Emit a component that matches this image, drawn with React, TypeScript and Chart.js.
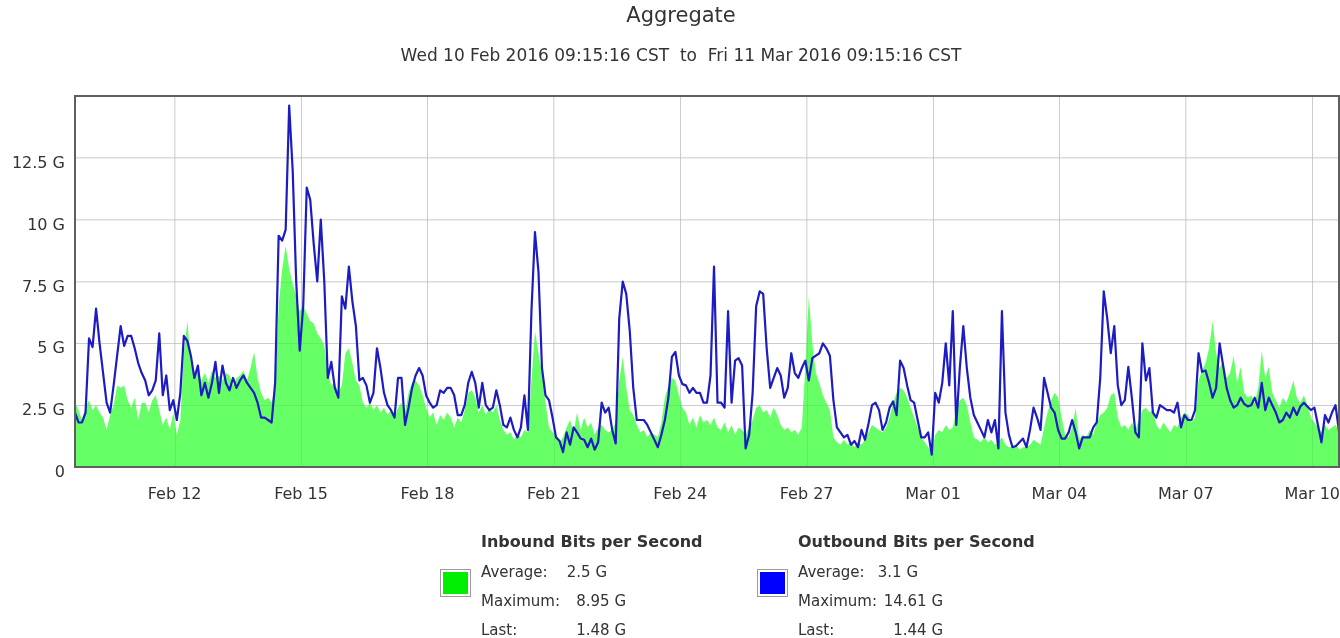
import React, { useEffect, useRef } from 'react';
import { Chart, registerables } from 'chart.js';

Chart.register(...registerables);

const TITLE = 'Aggregate';
const SUBTITLE = 'Wed 10 Feb 2016 09:15:16 CST  to  Fri 11 Mar 2016 09:15:16 CST';
const FONT = '"DejaVu Sans", "Bitstream Vera Sans", sans-serif';

// one sample every 2 hours, starting Wed 10 Feb 2016 09:15 CST
const SAMPLE_HOURS = 2;
const RANGE_HOURS = 720;

// x axis ticks (hours after start) and their labels
const xTickHours = [56.75, 128.75, 200.75, 272.75, 344.75, 416.75, 488.75, 560.75, 632.75, 704.75];
const xTickLabels = ['Feb 12', 'Feb 15', 'Feb 18', 'Feb 21', 'Feb 24', 'Feb 27', 'Mar 01', 'Mar 04', 'Mar 07', 'Mar 10'];

// y axis (Gbit/s)
const Y_MAX = 15;
const Y_STEP = 2.5;
const yTickLabels = ['0', '2.5 G', '5 G', '7.5 G', '10 G', '12.5 G', ''];

// Inbound bits per second (G)
const inboundPart1 = [
  2.6, 2.3, 1.9, 2.4, 2.7, 2.3, 2.5, 2.2, 2.0, 1.5,
  2.1, 2.5, 3.3, 3.2, 3.3, 2.7, 2.4, 2.8, 1.9, 2.6,
  2.6, 2.2, 2.7, 2.9, 2.3, 1.7, 2.0, 1.5, 2.2, 1.3,
  1.9, 4.6, 5.9, 4.2, 3.7, 3.9, 3.5, 3.8, 3.4, 3.9,
  3.6, 3.7, 3.5, 3.8, 3.7, 3.3, 3.6,
];
const inboundPart2 = [
  3.7, 3.9, 3.5,
  4.0, 4.65, 3.6, 3.0, 2.7, 2.8, 2.6, 3.2, 6.5, 8.0,
  8.95, 8.0, 7.4, 6.9, 6.3, 6.5, 6.2, 5.9, 5.8, 5.4,
  5.2, 4.9, 3.8, 3.3, 3.4, 3.0, 3.3, 4.6, 4.8, 4.2,
  3.5, 3.3, 2.6, 2.4, 2.6, 2.3, 2.5, 2.2, 2.4, 2.1,
  2.3, 2.0, 2.4,
];
const inboundPart3 = [
  2.6, 2.2, 3.0, 3.4, 3.5, 3.3, 2.9,
  2.4, 2.0, 2.2, 1.7, 2.1, 1.9, 2.2, 2.0, 1.6, 2.0,
  1.8, 2.3, 3.0, 3.1, 2.8, 2.2, 2.5, 2.1, 2.4, 2.2,
  2.5, 1.9, 1.5, 1.3, 1.4, 1.1, 1.3, 1.2, 1.5, 1.4,
  3.5, 5.5, 4.6, 3.8, 2.6, 1.6, 1.4, 1.3, 1.0,
];
const inboundPart4 = [
  1.2,
  1.6, 1.9, 1.4, 2.2, 1.5, 2.0, 1.6, 1.8, 1.3, 1.6,
  1.7, 1.5, 1.4, 1.5, 1.8, 3.5, 4.45, 3.2, 2.3, 2.1,
  1.7, 1.4, 1.5, 1.2, 1.4, 1.3, 1.2, 1.8, 2.8, 3.3,
  3.6, 3.5, 2.9, 2.4, 2.2, 1.7, 2.0, 1.6, 2.1, 1.8,
  1.9, 1.7, 2.0, 1.6,
];
const inboundPart5 = [
  1.5, 1.8, 1.4, 1.7, 1.3, 1.6,
  1.5, 1.3, 1.6, 1.9, 2.4, 2.5, 2.2, 2.3, 2.0, 2.4,
  2.1, 1.7, 1.5, 1.6, 1.4, 1.5, 1.3, 1.6, 4.0, 6.9,
  5.0, 3.8, 3.4, 2.9, 2.6, 2.3, 1.2, 1.0, 0.9, 1.1,
  0.9, 1.0, 0.8, 1.0, 0.9, 1.1, 1.4, 1.7, 1.6, 1.5,
];
const inboundPart6 = [
  1.4, 1.6, 2.0, 2.6, 3.0, 3.2, 3.1, 2.8, 2.4, 2.0,
  1.6, 1.2, 1.0, 0.8, 0.6, 1.3, 1.5, 1.4, 1.7, 1.5,
  1.6, 2.3, 2.7, 2.8, 2.5, 1.8, 1.2, 1.1, 1.0, 1.2,
  1.0, 1.1, 0.9, 1.0, 1.2, 0.9, 0.8, 0.8, 0.9, 0.7,
  0.8, 0.8, 0.9, 1.1, 1.0, 0.9,
];
const inboundPart7 = [
  1.6, 2.2, 2.7, 3.0,
  2.8, 2.0, 1.3, 1.2, 1.6, 2.4, 1.1, 1.3, 1.2, 1.5,
  1.3, 1.8, 2.1, 2.2, 2.4, 2.9, 3.0, 2.0, 1.6, 1.7,
  1.5, 1.8, 1.5, 1.9, 2.3, 2.4, 2.2, 2.3, 1.7, 1.5,
  1.8, 1.6, 1.4, 1.7, 1.6, 2.0, 2.2, 2.1, 1.8, 2.0,
];
const inboundPart8 = [
  3.5, 3.9, 4.2, 4.8, 5.9, 4.6, 4.0, 4.3, 3.6, 3.8,
  4.5, 3.4, 4.05, 3.0, 2.8, 2.9, 2.6, 3.2, 4.7, 3.6,
  4.05, 3.0, 2.7, 2.4, 2.8, 2.6, 3.0, 3.5, 2.8, 2.6,
  2.9, 2.5, 2.0, 1.8, 1.6, 1.4, 1.7, 1.5, 1.6, 1.7,
  1.48,
];

// Outbound bits per second (G)
const outboundPart1 = [
  2.2, 1.8, 1.8, 2.2, 5.2, 4.85, 6.4, 5.0, 3.8, 2.6,
  2.2, 3.3, 4.5, 5.7, 4.9, 5.3, 5.3, 4.8, 4.2, 3.8,
  3.5, 2.9, 3.1, 3.5, 5.4, 2.9, 3.7, 2.3, 2.7, 1.9,
  3.0, 5.3, 5.1, 4.5, 3.6, 4.1, 2.9, 3.4, 2.8, 3.4,
  4.25, 3.0, 4.1, 3.4, 3.1, 3.6, 3.2,
];
const outboundPart2 = [
  3.5, 3.7, 3.4,
  3.2, 3.0, 2.6, 2.0, 2.0, 1.9, 1.8, 3.4, 9.35, 9.15,
  9.6, 14.61, 12.0, 7.5, 4.7, 6.5, 11.3, 10.8, 9.0, 7.5,
  10.0, 7.5, 3.6, 4.25, 3.2, 2.8, 6.9, 6.4, 8.1, 6.7,
  5.7, 3.5, 3.6, 3.3, 2.6, 3.0, 4.8, 4.0, 3.0, 2.5,
  2.3, 2.0, 3.6,
];
const outboundPart3 = [
  3.6, 1.7, 2.4, 3.2, 3.7, 4.0, 3.7,
  2.9, 2.6, 2.4, 2.5, 3.1, 3.0, 3.2, 3.2, 2.9, 2.1,
  2.1, 2.5, 3.4, 3.85, 3.4, 2.4, 3.4, 2.5, 2.3, 2.4,
  3.1, 2.5, 1.7, 1.6, 2.0, 1.5, 1.2, 1.6, 2.9, 1.5,
  6.3, 9.5, 7.9, 4.0, 2.9, 2.7, 2.0, 1.2, 1.05,
];
const outboundPart4 = [
  0.6,
  1.4, 0.9, 1.6, 1.4, 1.15, 1.1, 0.8, 1.15, 0.7, 1.0,
  2.6, 2.2, 2.4, 1.5, 0.95, 6.0, 7.5, 7.0, 5.5, 3.2,
  1.9, 1.9, 1.9, 1.7, 1.4, 1.1, 0.8, 1.3, 1.9, 2.8,
  4.45, 4.65, 3.7, 3.35, 3.3, 3.0, 3.2, 3.0, 3.0, 2.6,
  2.6, 3.7, 8.1, 2.6,
];
const outboundPart5 = [
  2.6, 2.4, 6.3, 2.6, 4.3, 4.4,
  4.1, 0.75, 1.3, 3.0, 6.5, 7.1, 7.0, 4.8, 3.2, 3.6,
  4.0, 3.7, 2.8, 3.2, 4.6, 3.8, 3.6, 4.0, 4.3, 3.5,
  4.4, 4.5, 4.6, 5.0, 4.8, 4.5, 2.7, 1.6, 1.4, 1.2,
  1.3, 0.9, 1.05, 0.8, 1.5, 1.1, 1.76, 2.5, 2.6, 2.3,
];
const outboundPart6 = [
  1.5, 1.8, 2.4, 2.65, 2.1, 4.3, 4.0, 3.3, 2.7, 2.6,
  1.9, 1.2, 1.2, 1.4, 0.5, 3.0, 2.6, 3.4, 5.0, 3.3,
  6.3, 1.7, 4.0, 5.7, 4.0, 2.8, 2.1, 1.8, 1.5, 1.2,
  1.9, 1.4, 1.9, 0.75, 6.3, 2.2, 1.3, 0.8, 0.85, 1.0,
  1.15, 0.8, 1.5, 2.4, 2.0, 1.5,
];
const outboundPart7 = [
  3.6, 3.0, 2.4, 2.2,
  1.5, 1.15, 1.15, 1.4, 1.9, 1.4, 0.75, 1.2, 1.2, 1.2,
  1.6, 1.8, 3.6, 7.1, 6.0, 4.6, 5.7, 3.3, 2.5, 2.7,
  4.05, 2.8, 1.4, 1.2, 5.0, 3.5, 4.0, 2.2, 2.0, 2.5,
  2.4, 2.3, 2.3, 2.2, 2.6, 1.6, 2.1, 1.9, 1.9, 2.3,
];
const outboundPart8 = [
  4.6, 3.85, 3.9, 3.4, 2.8, 3.2, 5.0, 4.1, 3.2, 2.7,
  2.4, 2.5, 2.8, 2.55, 2.45, 2.5, 2.8, 2.4, 3.4, 2.3,
  2.8, 2.5, 2.2, 1.8, 1.9, 2.2, 2.0, 2.4, 2.1, 2.45,
  2.6, 2.45, 2.3, 2.4, 1.7, 1.0, 2.1, 1.8, 2.2, 2.5,
  1.44,
];

const inbound = [
  ...inboundPart1, ...inboundPart2, ...inboundPart3, ...inboundPart4,
  ...inboundPart5, ...inboundPart6, ...inboundPart7, ...inboundPart8,
];
const outbound = [
  ...outboundPart1, ...outboundPart2, ...outboundPart3, ...outboundPart4,
  ...outboundPart5, ...outboundPart6, ...outboundPart7, ...outboundPart8,
];

// legend texts
const seriesNames = ['Inbound Bits per Second', 'Outbound Bits per Second'];
const seriesAverage = ['2.5 G', '3.1 G'];
const seriesMaximum = ['8.95 G', '14.61 G'];
const seriesLast = ['1.48 G', '1.44 G'];
const seriesSwatch = ['#00ee00', '#0000ff'];

const toPoints = (values: number[]) => values.map((v, i) => ({ x: i * SAMPLE_HOURS, y: v }));

const overlayPlugin = {
  id: 'rrdOverlay',
  beforeDraw(chart: any) {
    const { ctx, width, height } = chart;
    ctx.save();
    ctx.fillStyle = '#ffffff';
    ctx.fillRect(0, 0, width, height);
    ctx.restore();
  },
  afterDatasetDraw(chart: any, args: any) {
    if (args.index !== 1) return;
    const { ctx, chartArea: a, scales } = chart;
    ctx.save();
    ctx.beginPath();
    ctx.rect(a.left, a.top, a.right - a.left, a.bottom - a.top);
    ctx.clip();
    ctx.strokeStyle = 'rgba(0,0,0,0.07)';
    ctx.lineWidth = 1;
    xTickHours.forEach((h) => {
      const px = Math.round(scales.x.getPixelForValue(h)) + 0.5;
      ctx.beginPath();
      ctx.moveTo(px, a.top);
      ctx.lineTo(px, a.bottom);
      ctx.stroke();
    });
    for (let v = Y_STEP; v < Y_MAX; v += Y_STEP) {
      const py = Math.round(scales.y.getPixelForValue(v)) + 0.5;
      ctx.beginPath();
      ctx.moveTo(a.left, py);
      ctx.lineTo(a.right, py);
      ctx.stroke();
    }
    ctx.restore();
  },
  afterDraw(chart: any) {
    const { ctx, chartArea: a } = chart;
    ctx.save();
    // plot frame
    ctx.strokeStyle = '#5f5f5f';
    ctx.lineWidth = 2;
    ctx.strokeRect(a.left, a.top, a.right - a.left, a.bottom - a.top);

    // titles
    ctx.fillStyle = '#333333';
    ctx.textAlign = 'center';
    ctx.textBaseline = 'middle';
    ctx.font = `21px ${FONT}`;
    ctx.fillText(TITLE, 681, 17);
    ctx.font = `17px ${FONT}`;
    ctx.fillText(SUBTITLE, 681, 57);

    // legend
    const blocks = [
      { x: 481, box: 440, valRight: [607, 626, 626] },
      { x: 798, box: 757, valRight: [918, 943, 943] },
    ];
    blocks.forEach((b, k) => {
      ctx.fillStyle = '#333333';
      ctx.textAlign = 'left';
      ctx.font = `bold 16px ${FONT}`;
      ctx.fillText(seriesNames[k], b.x, 543);
      ctx.font = `15px ${FONT}`;
      ctx.fillText('Average:', b.x, 573);
      ctx.fillText('Maximum:', b.x, 602);
      ctx.fillText('Last:', b.x, 631);
      ctx.textAlign = 'right';
      ctx.fillText(seriesAverage[k], b.valRight[0], 573);
      ctx.fillText(seriesMaximum[k], b.valRight[1], 602);
      ctx.fillText(seriesLast[k], b.valRight[2], 631);
      // swatch
      ctx.fillStyle = '#ffffff';
      ctx.fillRect(b.box, 569, 30, 27);
      ctx.strokeStyle = '#9a9a9a';
      ctx.lineWidth = 1;
      ctx.strokeRect(b.box + 0.5, 569.5, 30, 27);
      ctx.fillStyle = seriesSwatch[k];
      ctx.fillRect(b.box + 3, 572, 25, 22);
    });
    ctx.restore();
  },
};

export default function App() {
  const canvasRef = useRef<HTMLCanvasElement | null>(null);

  useEffect(() => {
    document.body.style.margin = '0';
    const canvas = canvasRef.current;
    if (!canvas) return;
    const chart = new Chart(canvas, {
      type: 'line',
      data: {
        datasets: [
          {
            label: seriesNames[1],
            data: toPoints(outbound),
            borderColor: '#1c1cc2',
            borderWidth: 2.2,
            borderJoinStyle: 'round',
            pointRadius: 0,
            fill: false,
            tension: 0,
            order: 0,
          },
          {
            label: seriesNames[0],
            data: toPoints(inbound),
            borderWidth: 0,
            borderColor: 'rgba(0,0,0,0)',
            backgroundColor: '#66ff66',
            pointRadius: 0,
            fill: 'origin',
            tension: 0,
            order: 1,
          },
        ],
      },
      options: {
        animation: false,
        responsive: false,
        devicePixelRatio: 1,
        layout: { padding: { top: 96, left: 0, right: 1, bottom: 0 }, autoPadding: false },
        plugins: {
          legend: { display: false },
          title: { display: false },
          tooltip: { enabled: false },
        },
        scales: {
          x: {
            type: 'linear',
            min: 0,
            max: RANGE_HOURS,
            afterBuildTicks: (axis: any) => {
              axis.ticks = xTickHours.map((v) => ({ value: v }));
            },
            afterFit: (axis: any) => {
              axis.height = 171;
              axis.paddingLeft = 0;
              axis.paddingRight = 0;
            },
            ticks: {
              autoSkip: false,
              maxRotation: 0,
              padding: 18,
              color: '#333333',
              font: { family: FONT, size: 16 },
              callback: (_v: any, i: number) => xTickLabels[i],
            },
            grid: { color: '#dcdcdc', lineWidth: 1, drawTicks: false },
            border: { display: false },
          },
          y: {
            min: 0,
            max: Y_MAX,
            afterFit: (axis: any) => {
              axis.width = 75;
              axis.paddingTop = 0;
              axis.paddingBottom = 0;
            },
            ticks: {
              stepSize: Y_STEP,
              padding: 10,
              labelOffset: 6,
              color: '#333333',
              font: { family: FONT, size: 16 },
              callback: (_v: any, i: number) => yTickLabels[i],
            },
            grid: { color: '#dcdcdc', lineWidth: 1, drawTicks: false },
            border: { display: false },
          },
        },
      },
      plugins: [overlayPlugin],
    } as any);
    return () => chart.destroy();
  }, []);

  return (
    <div style={{ width: 1340, height: 638 }}>
      <canvas ref={canvasRef} width={1340} height={638} />
    </div>
  );
}
